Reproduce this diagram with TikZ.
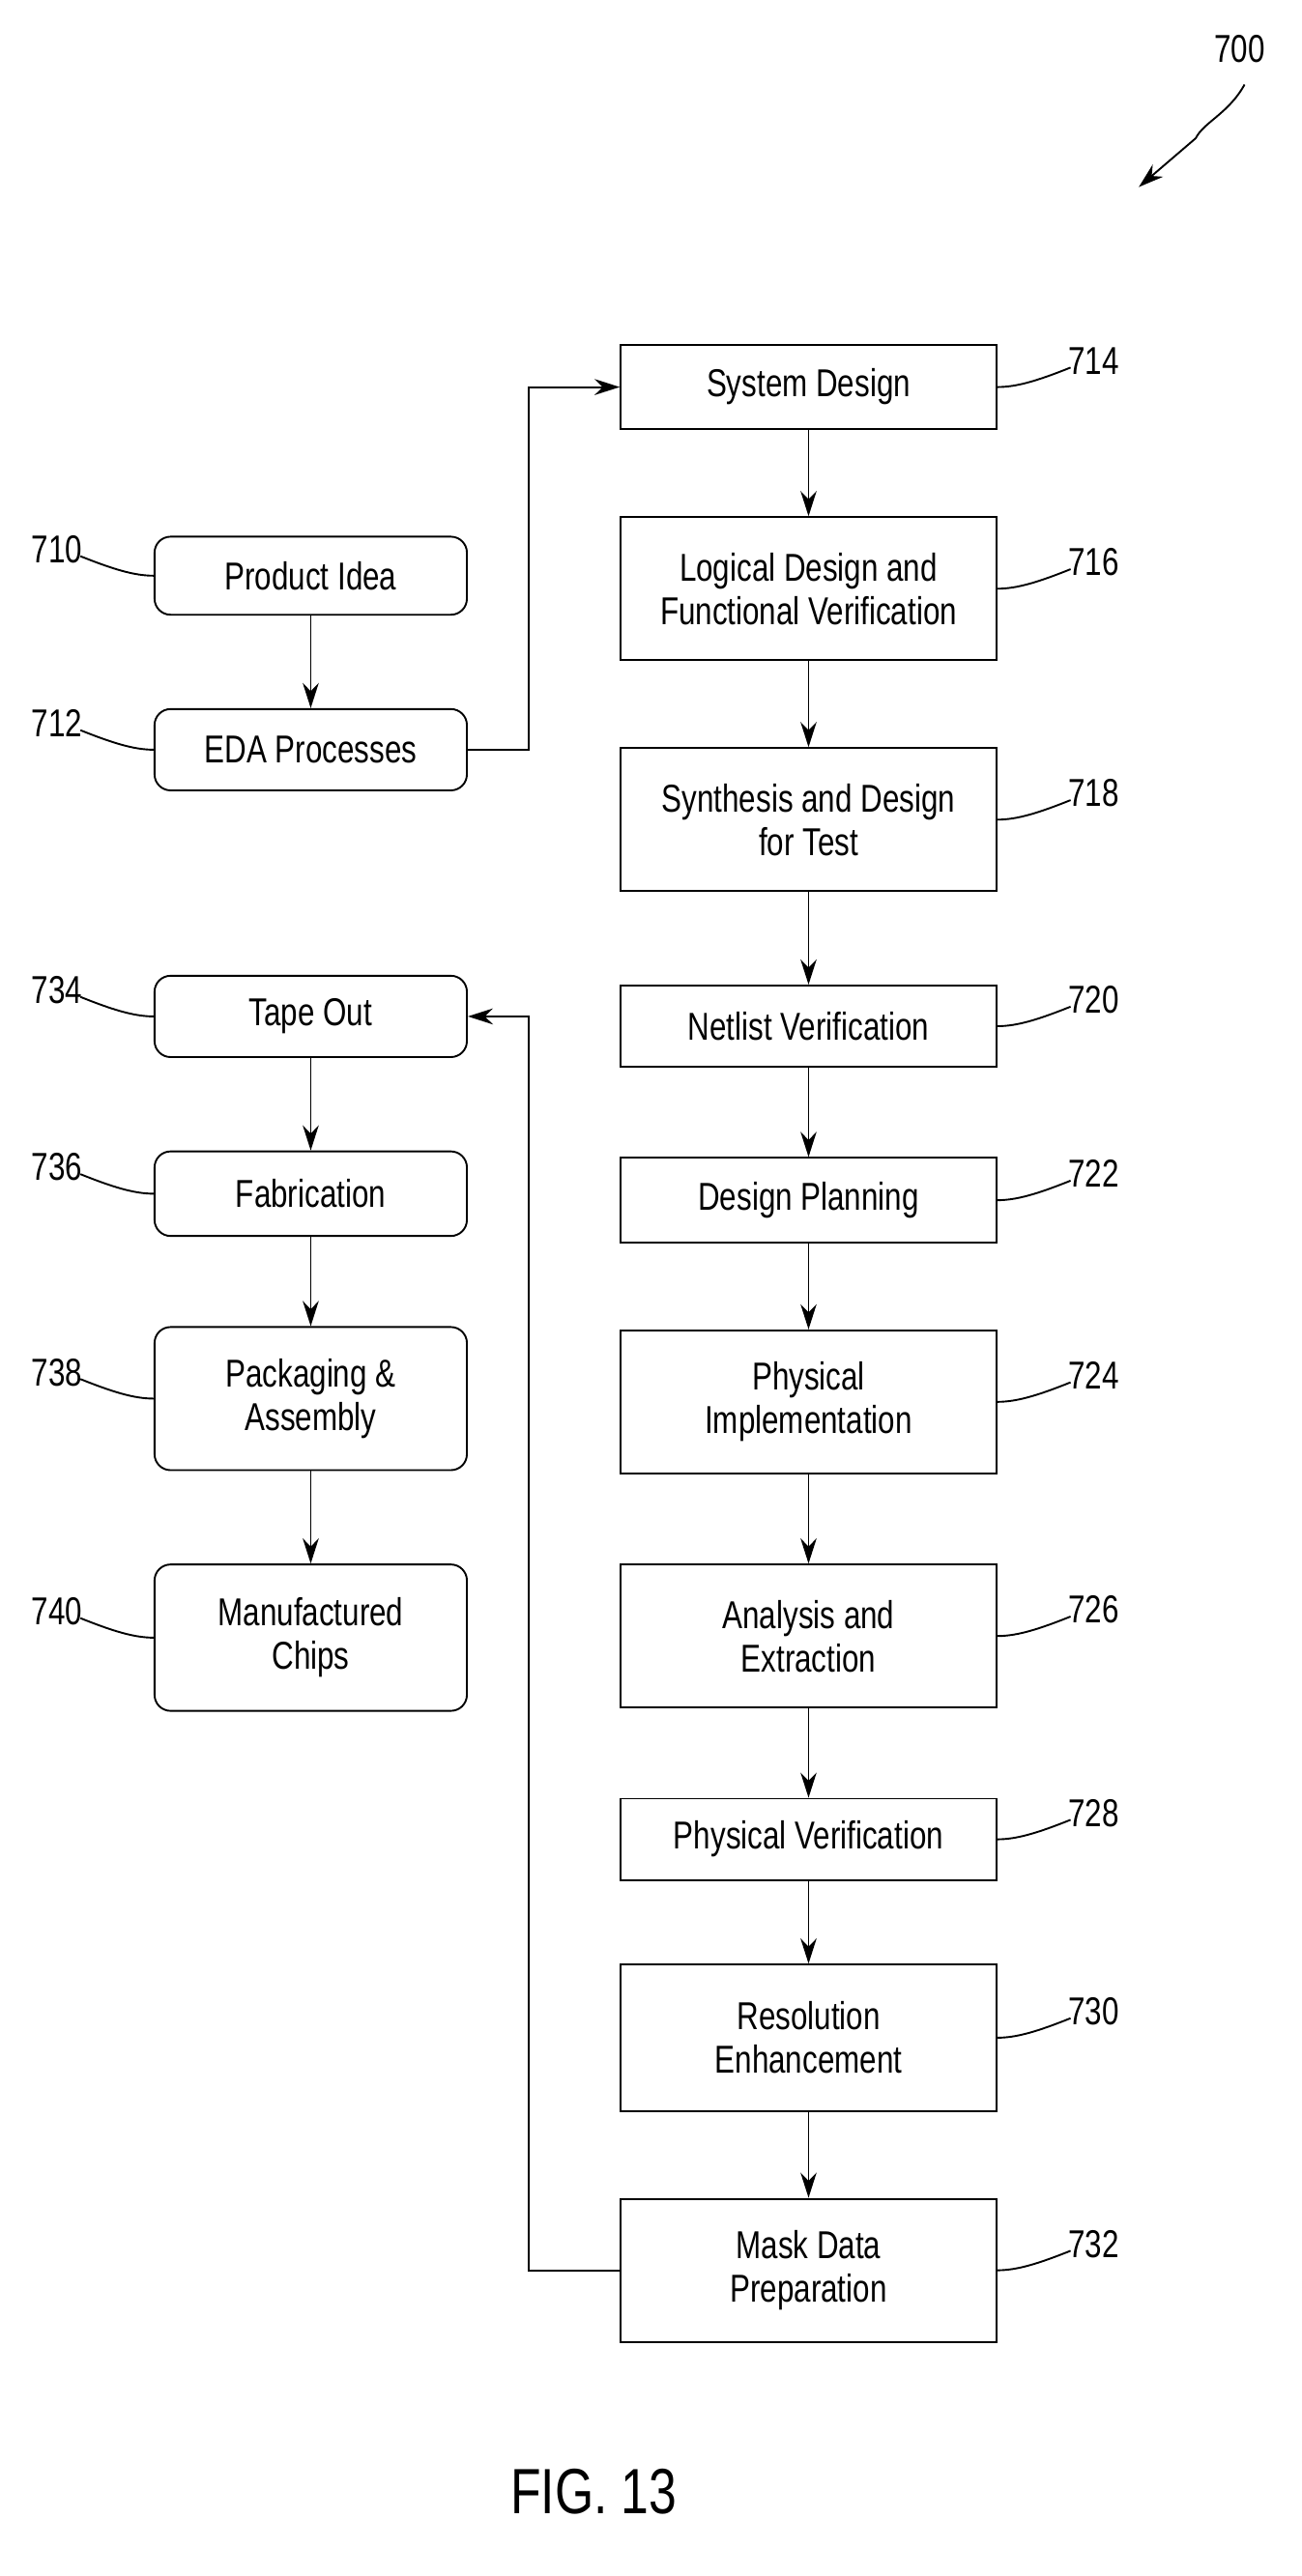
\documentclass[tikz,border=0pt]{standalone}
\usepackage{fontspec}
\setmainfont{Liberation Sans}[FakeStretch=0.78]
\usetikzlibrary{arrows.meta}
\begin{document}
\begin{tikzpicture}[x=0.05cm,y=-0.05cm,
 box/.style={draw,line width=1.6pt,minimum width=231*0.05cm,align=center,inner sep=0pt,font=\fontsize{34}{38}\selectfont},
 rbox/.style={box,rounded corners=14pt,minimum width=192*0.05cm},
 lab/.style={font=\fontsize{34}{38}\selectfont,inner sep=0pt},
 ar/.style={line width=1.6pt,-{Stealth[length=22pt,width=14pt]}},
 ln/.style={line width=1.6pt}]
\useasboundingbox (0,0) rectangle (800,1584);
\newcommand{\rb}[5]{\node[box,minimum height=#4*0.05cm] (#1) at (497,#3) {#2};
 \draw[ln] (#1.east) .. controls +(12,0) and +(-20,8) .. ++(45,-12) coordinate (#1l);
 \node[lab,anchor=west] at ([xshift=-2pt,yshift=6pt]#1l) {#5};}
\newcommand{\lb}[5]{\node[rbox,minimum height=#4*0.05cm] (#1) at (191,#3) {#2};
 \draw[ln] (#1.west) .. controls +(-12,0) and +(20,8) .. ++(-45,-12) coordinate (#1l);
 \node[lab,anchor=east] at ([xshift=2pt,yshift=6pt]#1l) {#5};}
\rb{a}{System Design}{238}{52}{714}
\rb{b}{Logical Design and\\Functional Verification}{362}{88}{716}
\rb{c}{Synthesis and Design\\for Test}{504}{88}{718}
\rb{d}{Netlist Verification}{631}{50}{720}
\rb{e}{Design Planning}{738}{52}{722}
\rb{f}{Physical\\Implementation}{862}{88}{724}
\rb{g}{Analysis and\\Extraction}{1006}{88}{726}
\rb{h}{Physical Verification}{1131}{50}{728}
\rb{i}{Resolution\\Enhancement}{1253}{90}{730}
\rb{j}{Mask Data\\Preparation}{1396}{88}{732}
\lb{p}{Product Idea}{354}{48}{710}
\lb{q}{EDA Processes}{461}{50}{712}
\lb{r}{Tape Out}{625}{50}{734}
\lb{s}{Fabrication}{734}{52}{736}
\lb{t}{Packaging \&\\Assembly}{860}{88}{738}
\lb{u}{Manufactured\\Chips}{1007}{90}{740}
\foreach \x/\y in {a/b,b/c,c/d,d/e,e/f,f/g,g/h,h/i,i/j,p/q,r/s,s/t,t/u} \draw[ar] (\x) -- (\y);
\coordinate (k1) at (325,461); \coordinate (k2) at (325,238);
\draw[ar] (q.east) -- (k1) -- (k2) -- (a.west);
\coordinate (k3) at (325,1396); \coordinate (k4) at (325,625);
\draw[ar] (j.west) -- (k3) -- (k4) -- (r.east);
\node[lab] (n700) at (762,30) {700};
\coordinate (e700) at (700,115);
\draw[ar] (765,52) .. controls (755,70) and (740,75) .. (735,85) -- (e700);
\node[font=\fontsize{56}{60}\selectfont,inner sep=0pt] (fig) at (365,1532) {FIG. 13};
\end{tikzpicture}
\end{document}
